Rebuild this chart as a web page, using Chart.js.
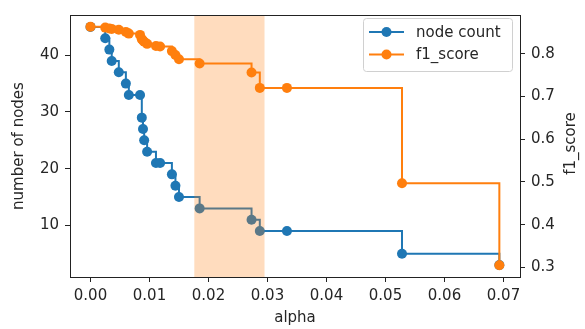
<!DOCTYPE html>
<html>
<head>
<meta charset="utf-8">
<script src="https://cdn.jsdelivr.net/npm/chart.js@4.4.1/dist/chart.umd.min.js"></script>
<style>
  html, body { margin: 0; padding: 0; background: #fff; }
</style>
</head>
<body>
<canvas id="chart" width="585" height="329"></canvas>
<script>
// pruning path values
const alphas = [0, 0.0025, 0.0032, 0.0036, 0.0048, 0.0060, 0.0065, 0.0084, 0.0087, 0.0089, 0.0091, 0.0096,
                0.0111, 0.0118, 0.0138, 0.0144, 0.0150, 0.0185, 0.0273, 0.0287, 0.0333, 0.0528, 0.0693];
const nodeCounts = [45, 43, 41, 39, 37, 35, 33, 33, 29, 27, 25, 23, 21, 21, 19, 17, 15, 13, 11, 9, 9, 5, 3];
const f1Scores = [0.863, 0.861, 0.859, 0.858, 0.856, 0.851, 0.847, 0.844, 0.834, 0.831, 0.828, 0.823,
                  0.818, 0.817, 0.806, 0.797, 0.787, 0.777, 0.756, 0.720, 0.720, 0.497, 0.305];
const xTicks = [0, 0.01, 0.02, 0.03, 0.04, 0.05, 0.06, 0.07];
const nodeTicks = [10, 20, 30, 40];
const f1Ticks = [0.3, 0.4, 0.5, 0.6, 0.7, 0.8];
const spanRange = [0.0176, 0.0295];

const BLUE = '#1f77b4';
const ORANGE = '#ff7f0e';
const TXT = '#262626';
const FONT = 'DejaVu Sans';

function toPoints(ys) {
    return alphas.map((a, i) => ({ x: a, y: ys[i] }));
}

// orange band, drawn over the blue line but under the orange one
const spanPlugin = {
    id: 'span',
    beforeDatasetDraw(chart, args) {
        if (args.index !== 1) return;
        const { ctx, chartArea } = chart;
        const x = chart.scales.x;
        const x0 = x.getPixelForValue(spanRange[0]);
        const x1 = x.getPixelForValue(spanRange[1]);
        ctx.save();
        ctx.fillStyle = 'rgba(255, 127, 14, 0.27)';
        ctx.fillRect(x0, chartArea.top, x1 - x0, chartArea.bottom - chartArea.top);
        ctx.restore();
    }
};

// box around the axes, matplotlib legend and right axis title
const decorPlugin = {
    id: 'decor',
    afterDatasetsDraw(chart) {
        const { ctx, chartArea: a } = chart;
        ctx.save();
        ctx.strokeStyle = '#222';
        ctx.lineWidth = 1;
        ctx.strokeRect(a.left + 0.5, a.top + 0.5, a.right - a.left, a.bottom - a.top);
        ctx.restore();
    },
    afterDraw(chart) {
        const { ctx } = chart;
        ctx.save();
        // legend
        const bx = 363, by = 18, bw = 149, bh = 53;
        ctx.beginPath();
        ctx.roundRect(bx + 0.5, by + 0.5, bw, bh, 3);
        ctx.fillStyle = 'rgba(255,255,255,0.8)';
        ctx.fill();
        ctx.strokeStyle = '#d0d0d0';
        ctx.lineWidth = 1;
        ctx.stroke();
        const rows = [32, 54.5];
        chart.data.datasets.forEach((ds, i) => {
            const y = rows[i];
            ctx.strokeStyle = ds.borderColor;
            ctx.lineWidth = 2;
            ctx.beginPath();
            ctx.moveTo(369, y);
            ctx.lineTo(404, y);
            ctx.stroke();
            ctx.fillStyle = ds.backgroundColor;
            ctx.beginPath();
            ctx.arc(386.5, y, 5, 0, Math.PI * 2);
            ctx.fill();
            ctx.fillStyle = TXT;
            ctx.font = '15px "' + FONT + '"';
            ctx.textAlign = 'left';
            ctx.textBaseline = 'middle';
            ctx.fillText(ds.label, 416, y + 1);
        });
        // right axis title, reads bottom to top
        ctx.translate(571.5, 143.5);
        ctx.rotate(-Math.PI / 2);
        ctx.textAlign = 'center';
        ctx.textBaseline = 'middle';
        ctx.fillStyle = TXT;
        ctx.font = '15px "' + FONT + '"';
        ctx.fillText('f1_score', 0, 0);
        ctx.restore();
    }
};

const tickGrid = { drawOnChartArea: false, drawTicks: true, tickLength: 5, color: '#222', lineWidth: 1 };
const tickFont = { family: FONT, size: 15 };

new Chart(document.getElementById('chart'), {
    type: 'line',
    data: {
        datasets: [{
            label: 'node count',
            data: toPoints(nodeCounts),
            yAxisID: 'y',
            borderColor: BLUE,
            backgroundColor: BLUE,
            borderWidth: 2,
            stepped: 'before',
            pointRadius: 5,
            pointBorderWidth: 0,
            order: 1
        }, {
            label: 'f1_score',
            data: toPoints(f1Scores),
            yAxisID: 'y1',
            borderColor: ORANGE,
            backgroundColor: ORANGE,
            borderWidth: 2,
            stepped: 'before',
            pointRadius: 5,
            pointBorderWidth: 0,
            order: 0
        }]
    },
    options: {
        responsive: false,
        animation: false,
        layout: { padding: { top: 10, left: 0, right: 0, bottom: 0 } },
        plugins: {
            legend: { display: false },
            tooltip: { enabled: false }
        },
        scales: {
            x: {
                type: 'linear',
                min: -0.00347,
                max: 0.0728,
                border: { display: false },
                grid: tickGrid,
                afterBuildTicks: s => { s.ticks = xTicks.map(v => ({ value: v })); },
                afterFit: s => { s.height = 52; },
                ticks: { color: TXT, font: tickFont, padding: 5, maxRotation: 0, callback: v => v.toFixed(2) },
                title: { display: true, text: 'alpha', color: TXT, font: tickFont, padding: { top: 0, bottom: 2 } }
            },
            y: {
                position: 'left',
                min: 0.9,
                max: 47.1,
                border: { display: false },
                grid: tickGrid,
                afterBuildTicks: s => { s.ticks = nodeTicks.map(v => ({ value: v })); },
                afterFit: s => { s.width = 70; },
                ticks: { color: TXT, font: tickFont, padding: 6, callback: v => String(v) },
                title: { display: true, text: 'number of nodes', color: TXT, font: tickFont, padding: { top: 10, bottom: 0 } }
            },
            y1: {
                position: 'right',
                min: 0.2776,
                max: 0.8905,
                border: { display: false },
                grid: tickGrid,
                afterBuildTicks: s => { s.ticks = f1Ticks.map(v => ({ value: v })); },
                afterFit: s => { s.width = 65; },
                ticks: { color: TXT, font: tickFont, padding: 6, callback: v => v.toFixed(1) }
            }
        }
    },
    plugins: [spanPlugin, decorPlugin]
});
</script>
</body>
</html>
